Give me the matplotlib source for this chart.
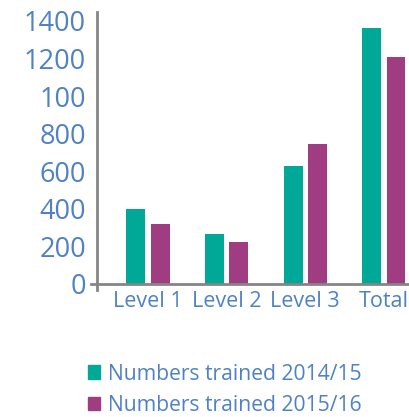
import matplotlib.pyplot as plt
import numpy as np
from matplotlib.patches import Patch

# ------------------------------------------------------------------
# DATA
# ------------------------------------------------------------------
categories = ["Level 1", "Level 2", "Level 3", "Total"]
trained_2014 = [400, 265, 628, 1362]
trained_2015 = [320, 222, 745, 1207]
series_labels = ["Numbers trained 2014/15", "Numbers trained 2015/16"]
ytick_values = [0, 200, 400, 600, 800, 1000, 1200, 1400]
ytick_labels = ["0", "200", "400", "600", "800", "100", "1200", "1400"]

TEAL = "#00A997"
PURPLE = "#A03C82"
TEXT = "#4F81C7"
AXIS = "#858585"

plt.rcParams["font.family"] = ["Open Sans", "DejaVu Sans"]

fig = plt.figure(figsize=(4.09, 4.17), dpi=100)
ax = fig.add_axes([97 / 409, 133 / 417, 1 - 97 / 409, (284 - 12) / 417])

x = np.arange(len(categories))
w = 0.24
ax.bar(x - 0.155, trained_2014, width=w, color=TEAL)
ax.bar(x + 0.155, trained_2015, width=w, color=PURPLE)

ax.set_xlim(-0.65, 3.32)
ax.set_ylim(0, 1447)

ax.set_yticks(ytick_values)
ax.set_yticklabels(ytick_labels)
ax.set_xticks(x)
ax.set_xticklabels(categories)
ax.tick_params(axis="y", length=0, pad=8, labelsize=19.5, labelcolor=TEXT)
ax.tick_params(axis="x", length=0, pad=5, labelsize=15.5, labelcolor=TEXT)

for s in ["top", "right"]:
    ax.spines[s].set_visible(False)
for s in ["left", "bottom"]:
    ax.spines[s].set_color(AXIS)
    ax.spines[s].set_linewidth(2)

# little overhangs where the axes meet
ax.plot([-0.72, -0.65], [0, 0], color=AXIS, lw=2, clip_on=False)
ax.plot([-0.65, -0.65], [0, -30], color=AXIS, lw=2, clip_on=False)

handles = [Patch(color=TEAL), Patch(color=PURPLE)]
fig.legend(handles, series_labels, loc="upper left",
           bbox_to_anchor=(77 / 409, 1 - 353 / 417), frameon=False,
           fontsize=15.2, labelcolor=TEXT, handlelength=0.6, handleheight=0.6,
           handletextpad=0.35, labelspacing=0.5, borderpad=0)

fig.savefig("out.png", dpi=100)
